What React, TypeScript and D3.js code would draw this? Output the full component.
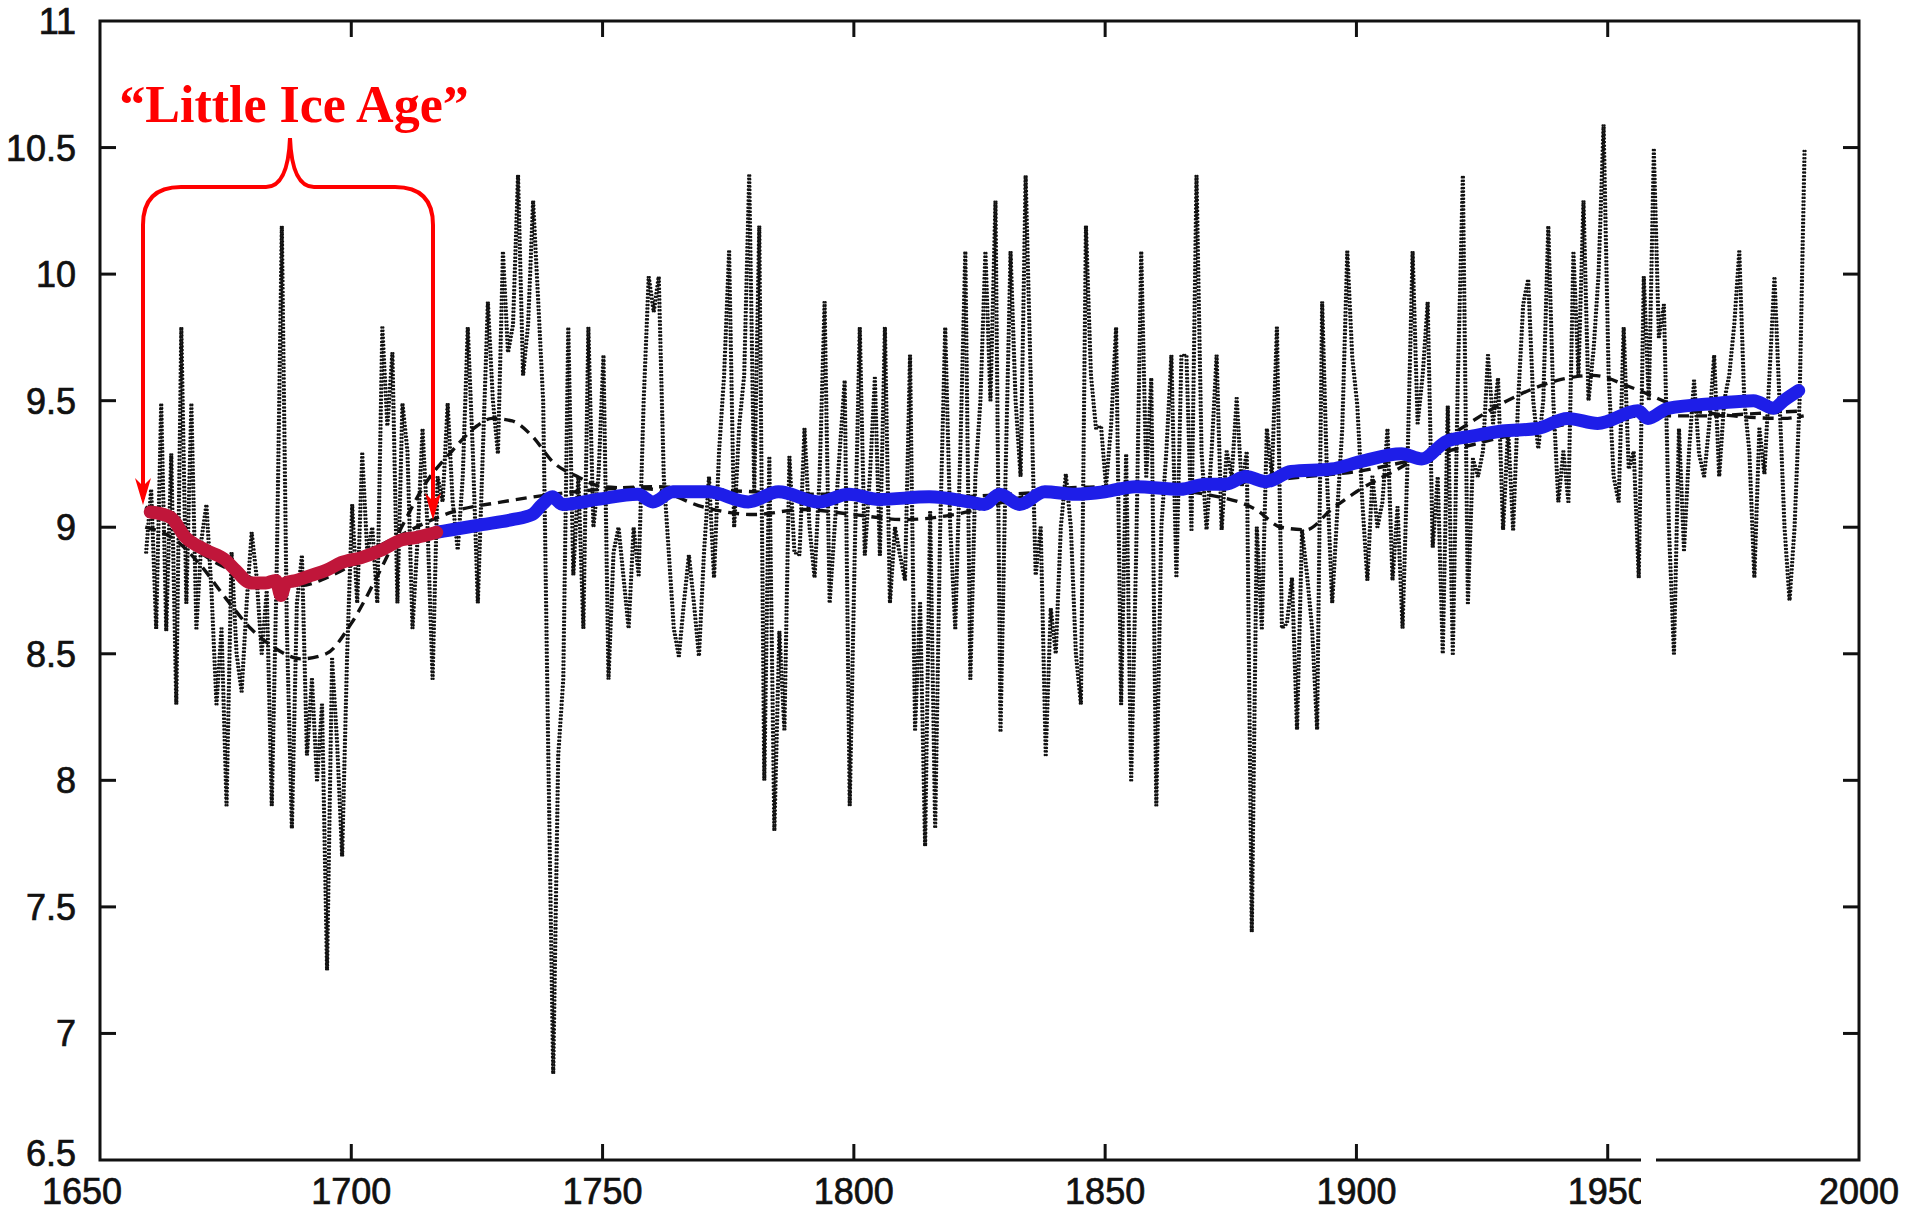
import React from "react";
import * as d3 from "d3";

const W = 1915;
const H = 1211;

// Annual mean temperature (deg C), 1659-1989
const firstYear = 1659;
const annualTemps = [
  8.90, 9.15, 8.60, 9.49, 8.59, 9.29, 8.30, 9.79, 8.70, 9.49, 8.60,
  8.95, 9.09, 8.75, 8.30, 8.60, 7.90, 8.90, 8.50, 8.35, 8.70,
  8.98, 8.80, 8.50, 8.75, 7.90, 8.85, 10.19, 8.60, 7.81, 8.70,
  8.89, 8.10, 8.40, 8.00, 8.30, 7.25, 8.48, 8.15, 7.70, 8.50,
  9.09, 8.70, 9.29, 8.90, 9.00, 8.70, 9.79, 9.40, 9.69, 8.70,
  9.49, 9.30, 8.60, 8.95, 9.39, 9.00, 8.40, 9.20, 9.10, 9.49,
  9.10, 8.91, 9.20, 9.79, 9.30, 8.70, 9.30, 9.89, 9.50, 9.29,
  10.09, 9.69, 9.80, 10.39, 9.60, 9.80, 10.29, 9.90, 9.50, 8.13,
  6.84, 8.10, 8.40, 9.79, 8.81, 9.20, 8.60, 9.79, 9.00, 9.20,
  9.68, 8.40, 8.90, 9.00, 8.80, 8.60, 9.00, 8.81, 9.50, 9.99,
  9.85, 9.99, 9.20, 8.90, 8.60, 8.49, 8.70, 8.89, 8.70, 8.49,
  8.90, 9.20, 8.80, 9.30, 9.60, 10.09, 9.00, 9.40, 9.60, 10.39,
  9.14, 10.19, 8.00, 9.28, 7.80, 8.59, 8.20, 9.28, 8.90, 8.89,
  9.39, 9.00, 8.80, 9.20, 9.89, 8.70, 9.00, 9.30, 9.58, 7.90,
  8.90, 9.79, 8.89, 9.20, 9.59, 8.89, 9.79, 8.70, 9.00, 8.89,
  8.79, 9.68, 8.20, 8.70, 7.74, 9.06, 7.81, 9.00, 9.79, 9.00,
  8.60, 9.30, 10.09, 8.40, 9.20, 9.50, 10.09, 9.50, 10.29, 8.19,
  9.20, 10.09, 9.50, 9.20, 10.39, 9.60, 8.81, 9.00, 8.10, 8.68,
  8.50, 9.00, 9.21, 9.00, 8.50, 8.30, 10.19, 9.60, 9.39, 9.40,
  9.16, 9.40, 9.79, 8.30, 9.29, 8.00, 8.90, 10.09, 9.20, 9.59,
  7.90, 9.00, 9.30, 9.68, 8.80, 9.68, 9.68, 8.99, 10.39, 9.30,
  8.99, 9.30, 9.68, 8.99, 9.30, 9.20, 9.51, 9.16, 9.30, 7.40,
  9.00, 8.60, 9.39, 9.20, 9.79, 8.60, 8.62, 8.80, 8.20, 8.99,
  8.81, 8.60, 8.20, 9.89, 9.18, 8.70, 9.06, 9.39, 10.09, 9.67,
  9.48, 9.10, 8.79, 9.20, 9.00, 9.10, 9.39, 8.79, 9.08, 8.60,
  9.27, 10.09, 9.41, 9.60, 9.89, 8.92, 9.20, 8.50, 9.48, 8.50,
  9.58, 10.39, 8.70, 9.27, 9.20, 9.30, 9.68, 9.41, 9.59, 8.99,
  9.39, 8.99, 9.50, 9.88, 9.98, 9.50, 9.31, 9.50, 10.19, 9.50,
  9.10, 9.30, 9.10, 10.09, 9.60, 10.29, 9.50, 9.70, 10.00, 10.59,
  9.60, 9.20, 9.10, 9.79, 9.23, 9.30, 8.80, 9.99, 9.50, 10.49,
  9.75, 9.88, 9.00, 8.50, 9.39, 8.91, 9.30, 9.58, 9.29, 9.20,
  9.40, 9.68, 9.20, 9.50, 9.60, 9.80, 10.09, 9.50, 9.30, 8.80,
  9.39, 9.21, 9.60, 9.99, 9.50, 9.00, 8.71, 9.00, 9.50, 10.50,
];

// Smoothed curve A (dashed)
const smoothAYears = [1659, 1665, 1670, 1675, 1680, 1685, 1690, 1695, 1700, 1705, 1710, 1715, 1720, 1725, 1728, 1732, 1736, 1740, 1745, 1750, 1760, 1770, 1780, 1790, 1800, 1810, 1820, 1830, 1840, 1850, 1860, 1870, 1880, 1885, 1890, 1895, 1900, 1910, 1920, 1930, 1940, 1947, 1955, 1965, 1975, 1985, 1989];
const smoothAValues = [9.0, 8.95, 8.85, 8.72, 8.6, 8.52, 8.48, 8.5, 8.62, 8.8, 9.0, 9.18, 9.3, 9.4, 9.43, 9.42, 9.36, 9.26, 9.2, 9.16, 9.15, 9.08, 9.05, 9.07, 9.05, 9.03, 9.05, 9.1, 9.15, 9.16, 9.15, 9.13, 9.07, 9.0, 8.99, 9.07, 9.14, 9.25, 9.38, 9.5, 9.58, 9.6, 9.55, 9.47, 9.44, 9.43, 9.44];

// Smoothed curve B (dashed)
const smoothBYears = [1659, 1665, 1670, 1675, 1680, 1685, 1690, 1695, 1700, 1705, 1710, 1715, 1720, 1730, 1740, 1750, 1760, 1770, 1780, 1790, 1800, 1810, 1820, 1830, 1840, 1850, 1860, 1870, 1880, 1890, 1900, 1910, 1920, 1930, 1940, 1950, 1960, 1970, 1980, 1989];
const smoothBValues = [9.08, 9.0, 8.9, 8.84, 8.8, 8.77, 8.77, 8.8, 8.85, 8.92, 8.97, 9.02, 9.06, 9.1, 9.13, 9.15, 9.16, 9.15, 9.14, 9.13, 9.13, 9.12, 9.12, 9.13, 9.14, 9.15, 9.16, 9.17, 9.18, 9.2, 9.22, 9.26, 9.31, 9.36, 9.4, 9.43, 9.44, 9.44, 9.45, 9.46];

// "Little Ice Age" trend (red)
const redYears = [1660, 1664, 1667, 1671, 1675, 1677, 1680, 1683, 1685, 1686, 1687, 1689, 1692, 1695, 1698, 1702, 1706, 1710, 1713, 1717];
const redValues = [9.06, 9.04, 8.96, 8.91, 8.87, 8.83, 8.78, 8.78, 8.79, 8.73, 8.78, 8.79, 8.81, 8.83, 8.86, 8.88, 8.91, 8.95, 8.96, 8.98];

// Later trend (blue)
const blueYears = [1717, 1720, 1726, 1732, 1736, 1738, 1740, 1742, 1749, 1757, 1760, 1764, 1771, 1779, 1785, 1793, 1799, 1805, 1815, 1823, 1826, 1829, 1833, 1838, 1844, 1850, 1856, 1865, 1870, 1874, 1878, 1882, 1887, 1895, 1901, 1909, 1913, 1918, 1923, 1929, 1936, 1942, 1948, 1956, 1958, 1962, 1972, 1979, 1983, 1985, 1988];
const blueValues = [8.98, 8.99, 9.01, 9.03, 9.05, 9.09, 9.12, 9.09, 9.11, 9.13, 9.10, 9.14, 9.14, 9.10, 9.14, 9.10, 9.13, 9.11, 9.12, 9.10, 9.09, 9.13, 9.09, 9.14, 9.13, 9.14, 9.16, 9.15, 9.17, 9.17, 9.20, 9.18, 9.22, 9.23, 9.26, 9.29, 9.27, 9.34, 9.36, 9.38, 9.39, 9.43, 9.41, 9.46, 9.43, 9.47, 9.49, 9.50, 9.47, 9.50, 9.54];

const yTicks = [6.5, 7, 7.5, 8, 8.5, 9, 9.5, 10, 10.5, 11];
const xTicks = [1650, 1700, 1750, 1800, 1850, 1900, 1950, 2000];

const M = { left: 100, right: 1859, top: 21, bottom: 1160 };

export default function App() {
  const x = d3.scaleLinear().domain([1650, 2000]).range([M.left, M.right]);
  const y = d3.scaleLinear().domain([6.5, 11]).range([M.bottom, M.top]);

  const annual = annualTemps.map((v, i) => [firstYear + i, v] as [number, number]);
  const lineLin = d3.line<[number, number]>().x((d) => x(d[0])).y((d) => y(d[1]));
  const lineSmooth = d3
    .line<[number, number]>()
    .x((d) => x(d[0]))
    .y((d) => y(d[1]))
    .curve(d3.curveMonotoneX);

  const zip = (a: number[], b: number[]) => a.map((v, i) => [v, b[i]] as [number, number]);

  const font = "'Liberation Sans', Arial, Helvetica, sans-serif";
  const tickLen = 16;

  // Annotation geometry
  const lx = 143;
  const rx = 433;
  const cx = 290;
  const by = 187;
  const topTip = 138;
  const leftTipY = 505;
  const rightTipY = 520;
  const r = 38;
  const bracePath = [
    `M ${lx} ${leftTipY - 6} L ${lx} ${by + r} Q ${lx} ${by} ${lx + r} ${by}`,
    `L ${cx - 24} ${by} Q ${cx - 2} ${by} ${cx} ${topTip}`,
    `Q ${cx + 2} ${by} ${cx + 24} ${by} L ${rx - r} ${by}`,
    `Q ${rx} ${by} ${rx} ${by + r} L ${rx} ${rightTipY - 6}`,
  ].join(" ");
  const arrowHead = (tx: number, ty: number) =>
    `M ${tx} ${ty} L ${tx - 8} ${ty - 27} L ${tx} ${ty - 19} L ${tx + 8} ${ty - 27} Z`;

  const annualPath = lineLin(annual) || "";

  return (
    <svg
      width={W}
      height={H}
      viewBox={`0 0 ${W} ${H}`}
      style={{ position: "absolute", left: 0, top: 0, display: "block", background: "#fff" }}
    >
      <rect x={0} y={0} width={W} height={H} fill="#fff" />

      {/* annual dotted series (printed as a doubled dotted trace) */}
      {[0, 1.8].map((dx) => (
        <path
          key={"ann" + dx}
          d={annualPath}
          transform={`translate(${dx},0)`}
          fill="none"
          stroke="#111"
          strokeWidth={2.5}
          strokeDasharray="0.01 3.6"
          strokeLinecap="round"
        />
      ))}

      {/* smoothed dashed curves */}
      <path
        d={lineSmooth(zip(smoothAYears, smoothAValues)) || ""}
        fill="none"
        stroke="#111"
        strokeWidth={3.4}
        strokeDasharray="11 7"
      />
      <path
        d={lineSmooth(zip(smoothBYears, smoothBValues)) || ""}
        fill="none"
        stroke="#111"
        strokeWidth={3.4}
        strokeDasharray="11 7"
      />

      {/* trend lines */}
      <path
        d={lineSmooth(zip(blueYears, blueValues)) || ""}
        fill="none"
        stroke="#1e1ee8"
        strokeWidth={13}
        strokeLinecap="round"
        strokeLinejoin="round"
      />
      <path
        d={lineSmooth(zip(redYears, redValues)) || ""}
        fill="none"
        stroke="#c0163a"
        strokeWidth={13}
        strokeLinecap="round"
        strokeLinejoin="round"
      />

      {/* frame */}
      <rect
        x={M.left}
        y={M.top}
        width={M.right - M.left}
        height={M.bottom - M.top}
        fill="none"
        stroke="#111"
        strokeWidth={3}
      />

      {/* y ticks both sides */}
      {yTicks.slice(1, -1).map((t) => (
        <g key={"yt" + t}>
          <line x1={M.left} x2={M.left + tickLen} y1={y(t)} y2={y(t)} stroke="#111" strokeWidth={3} />
          <line x1={M.right} x2={M.right - tickLen} y1={y(t)} y2={y(t)} stroke="#111" strokeWidth={3} />
        </g>
      ))}
      {yTicks.map((t) => (
        <text
          key={"yl" + t}
          x={76}
          y={y(t) - (t === 6.5 ? 7 : 0)}
          dy="0.36em"
          textAnchor="end"
          fontFamily={font}
          fontSize={36}
          fill="#111"
          stroke="#111"
          strokeWidth={0.7}
        >
          {String(t)}
        </text>
      ))}

      {/* x ticks top and bottom */}
      {xTicks.slice(1, -1).map((t) => (
        <g key={"xt" + t}>
          <line x1={x(t)} x2={x(t)} y1={M.bottom} y2={M.bottom - tickLen} stroke="#111" strokeWidth={3} />
          <line x1={x(t)} x2={x(t)} y1={M.top} y2={M.top + tickLen} stroke="#111" strokeWidth={3} />
        </g>
      ))}
      {xTicks.map((t) => (
        <text
          key={"xl" + t}
          x={x(t) + (t === 1650 ? -18 : 0)}
          y={1204}
          textAnchor="middle"
          fontFamily={font}
          fontSize={36}
          fill="#111"
          stroke="#111"
          strokeWidth={0.7}
        >
          {String(t)}
        </text>
      ))}
      {/* scan gap in bottom axis */}
      <rect x={1641} y={1148} width={15} height={63} fill="#fff" />

      {/* annotation */}
      <path d={bracePath} fill="none" stroke="#ff0000" strokeWidth={4} />
      <path d={arrowHead(lx, leftTipY)} fill="#ff0000" />
      <path d={arrowHead(rx, rightTipY)} fill="#ff0000" />
      <text
        x={294}
        y={122}
        textAnchor="middle"
        fontFamily="'Liberation Serif', 'Times New Roman', serif"
        fontWeight="bold"
        fontSize={52}
        fill="#ff0000"
      >
        “Little Ice Age”
      </text>
    </svg>
  );
}
